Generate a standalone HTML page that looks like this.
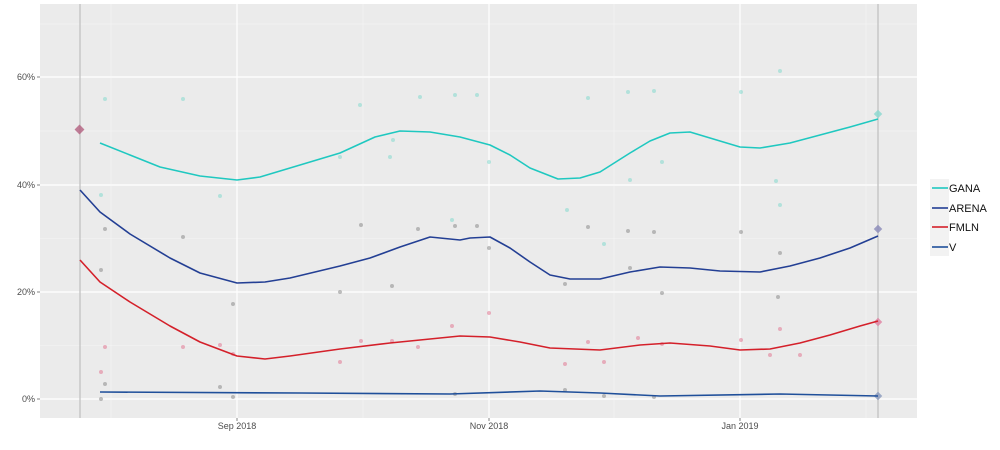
<!DOCTYPE html>
<html><head><style>
body{margin:0;background:#fff;}
svg text{font-family:"Liberation Sans",sans-serif;}
</style></head><body>
<svg width="1000" height="445" viewBox="0 0 1000 445">
<rect x="40" y="4" width="877" height="414" fill="#ebebeb"/>
<g stroke="#f5f5f5" stroke-width="0.6">
<line x1="40" x2="917" y1="345.5" y2="345.5"/><line x1="40" x2="917" y1="238.5" y2="238.5"/>
<line x1="40" x2="917" y1="131" y2="131"/><line x1="40" x2="917" y1="24" y2="24"/>
<line x1="111" x2="111" y1="4" y2="418"/><line x1="363" x2="363" y1="4" y2="418"/>
<line x1="614" x2="614" y1="4" y2="418"/><line x1="866" x2="866" y1="4" y2="418"/>
</g>
<g stroke="#fff" stroke-width="1.2">
<line x1="40" x2="917" y1="399" y2="399"/><line x1="40" x2="917" y1="292" y2="292"/>
<line x1="40" x2="917" y1="185" y2="185"/><line x1="40" x2="917" y1="77" y2="77"/>
<line x1="237" x2="237" y1="4" y2="418"/><line x1="489" x2="489" y1="4" y2="418"/>
<line x1="740" x2="740" y1="4" y2="418"/>
</g>
<line x1="80" x2="80" y1="4" y2="418" stroke="#c8c8c8" stroke-width="1.5"/>
<line x1="878" x2="878" y1="4" y2="418" stroke="#c8c8c8" stroke-width="1.5"/>
<g font-size="9" fill="#4d4d4d" text-anchor="end">
<text x="35" y="402">0%</text><text x="35" y="295">20%</text><text x="35" y="188">40%</text><text x="35" y="80">60%</text>
</g>
<g stroke="#333" stroke-width="0.6">
<line x1="37" x2="40" y1="399" y2="399"/><line x1="37" x2="40" y1="292" y2="292"/><line x1="37" x2="40" y1="185" y2="185"/><line x1="37" x2="40" y1="77" y2="77"/>
<line x1="237" x2="237" y1="418" y2="421"/><line x1="489" x2="489" y1="418" y2="421"/><line x1="740" x2="740" y1="418" y2="421"/>
</g>
<g font-size="9" fill="#4d4d4d" text-anchor="middle">
<text x="237" y="429">Sep 2018</text><text x="489" y="429">Nov 2018</text><text x="740" y="429">Jan 2019</text>
</g>
<g opacity="0.45">
<g fill="#6fd6c8">
<circle cx="105" cy="99" r="2"/><circle cx="183" cy="99" r="2"/><circle cx="101" cy="195" r="2"/><circle cx="220" cy="196" r="2"/>
<circle cx="360" cy="105" r="2"/><circle cx="393" cy="140" r="2"/><circle cx="420" cy="97" r="2"/><circle cx="455" cy="95" r="2"/>
<circle cx="477" cy="95" r="2"/><circle cx="452" cy="220" r="2"/><circle cx="489" cy="162" r="2"/><circle cx="567" cy="210" r="2"/>
<circle cx="588" cy="98" r="2"/><circle cx="628" cy="92" r="2"/><circle cx="654" cy="91" r="2"/><circle cx="630" cy="180" r="2"/>
<circle cx="662" cy="162" r="2"/><circle cx="604" cy="244" r="2"/><circle cx="741" cy="92" r="2"/><circle cx="780" cy="71" r="2"/>
<circle cx="776" cy="181" r="2"/><circle cx="780" cy="205" r="2"/><circle cx="340" cy="157" r="2"/><circle cx="390" cy="157" r="2"/>
</g>
<g fill="#777">
<circle cx="105" cy="229" r="2"/><circle cx="183" cy="237" r="2"/><circle cx="101" cy="270" r="2"/><circle cx="233" cy="304" r="2"/>
<circle cx="361" cy="225" r="2"/><circle cx="392" cy="286" r="2"/><circle cx="418" cy="229" r="2"/><circle cx="455" cy="226" r="2"/>
<circle cx="477" cy="226" r="2"/><circle cx="340" cy="292" r="2"/><circle cx="489" cy="248" r="2"/><circle cx="565" cy="284" r="2"/>
<circle cx="588" cy="227" r="2"/><circle cx="628" cy="231" r="2"/><circle cx="654" cy="232" r="2"/><circle cx="630" cy="268" r="2"/>
<circle cx="662" cy="293" r="2"/><circle cx="778" cy="297" r="2"/><circle cx="780" cy="253" r="2"/><circle cx="741" cy="232" r="2"/>
<circle cx="105" cy="384" r="2"/><circle cx="101" cy="399" r="2"/><circle cx="220" cy="387" r="2"/><circle cx="233" cy="397" r="2"/>
<circle cx="455" cy="394" r="2"/><circle cx="604" cy="396" r="2"/><circle cx="654" cy="397" r="2"/><circle cx="565" cy="390" r="2"/>
</g>
<g fill="#e06080">
<circle cx="105" cy="347" r="2"/><circle cx="101" cy="372" r="2"/><circle cx="183" cy="347" r="2"/><circle cx="220" cy="345" r="2"/>
<circle cx="233" cy="354" r="2"/><circle cx="361" cy="341" r="2"/><circle cx="392" cy="341" r="2"/><circle cx="418" cy="347" r="2"/>
<circle cx="452" cy="326" r="2"/><circle cx="489" cy="313" r="2"/><circle cx="565" cy="364" r="2"/><circle cx="588" cy="342" r="2"/>
<circle cx="604" cy="362" r="2"/><circle cx="638" cy="338" r="2"/><circle cx="662" cy="344" r="2"/><circle cx="741" cy="340" r="2"/>
<circle cx="780" cy="329" r="2"/><circle cx="770" cy="355" r="2"/><circle cx="800" cy="355" r="2"/><circle cx="340" cy="362" r="2"/>
</g>
</g>
<rect x="76" y="126" width="7" height="7" transform="rotate(45 79.5 129.5)" fill="#b36080" opacity="0.8"/>
<rect x="875" y="111" width="6" height="6" transform="rotate(45 878 114)" fill="#88d8d0" opacity="0.8"/>
<rect x="875" y="226" width="6" height="6" transform="rotate(45 878 229)" fill="#8888b8" opacity="0.8"/>
<rect x="875" y="319" width="6" height="6" transform="rotate(45 878 322)" fill="#e080a0" opacity="0.8"/>
<rect x="875" y="393" width="6" height="6" transform="rotate(45 878 396)" fill="#8899bb" opacity="0.8"/>
<g fill="none" stroke-width="1.6" stroke-linejoin="round">
<polyline stroke="#1fc8c0" points="100,143 130,155 160,167 200,176 237,180 260,177 300,165 340,153 375,137 400,131 430,132 460,137 490,145 510,155 530,168 558,179 580,178 600,172 630,153 650,141 670,133 690,132 720,141 740,147 760,148 790,143 820,135 850,127 878,119"/>
<polyline stroke="#233f94" points="80,190 100,212 130,234 170,258 200,273 237,283 265,282 290,278 340,266 370,258 400,247 430,237 460,240 470,238 490,237 510,248 530,262 550,275 570,279 600,279 630,272 660,267 690,268 720,271 760,272 790,266 820,258 850,248 878,236"/>
<polyline stroke="#d4202a" points="80,260 100,282 130,302 170,326 200,342 237,356 265,359 290,356 340,349 390,343 430,339 460,336 490,337 520,342 550,348 600,350 640,345 670,343 710,346 740,350 770,349 800,343 830,335 860,326 878,321"/>
<polyline stroke="#1f4f9a" points="100,392 300,393 450,394 540,391 600,393 660,396 780,394 878,396"/>
</g>
<rect x="930" y="179" width="19" height="77" fill="#f2f2f2"/>
<g stroke-width="1.6">
<line x1="932" x2="948" y1="188" y2="188" stroke="#1fc8c0"/>
<line x1="932" x2="948" y1="208" y2="208" stroke="#233f94"/>
<line x1="932" x2="948" y1="227" y2="227" stroke="#d4202a"/>
<line x1="932" x2="948" y1="247" y2="247" stroke="#1f4f9a"/>
</g>
<g font-size="11" fill="#111">
<text x="949" y="192">GANA</text><text x="949" y="212">ARENA</text><text x="949" y="231">FMLN</text><text x="949" y="251">V</text>
</g>
</svg>
</body></html>
